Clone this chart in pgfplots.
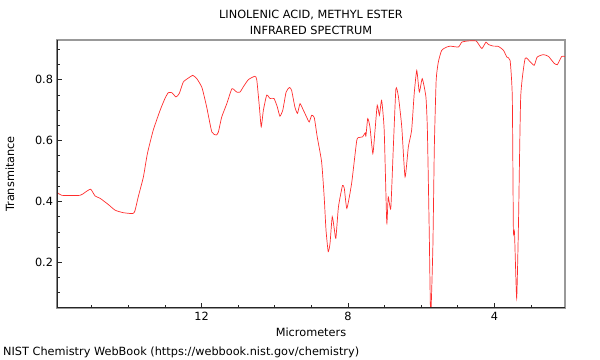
\documentclass[border=0pt]{standalone}
\usepackage{fontspec}
\setmainfont{DejaVu Sans}
\usepackage{pgfplots}
\usepackage{pgfplotstable}
\pgfplotsset{compat=1.18}
\definecolor{specred}{RGB}{255,45,45}
\pgfplotstableread{
x y
15.95 0.43
15.82 0.42
15.32 0.42
15.18 0.43
15.03 0.44
14.91 0.418
14.77 0.41
14.55 0.39
14.36 0.371
14.14 0.363
13.88 0.36
13.82 0.369
13.73 0.415
13.59 0.48
13.48 0.557
13.32 0.634
13.13 0.70
13.00 0.738
12.91 0.757
12.81 0.757
12.70 0.743
12.61 0.754
12.50 0.792
12.36 0.805
12.24 0.814
12.13 0.803
11.99 0.774
11.86 0.71
11.72 0.628
11.60 0.618
11.54 0.628
11.45 0.677
11.31 0.721
11.17 0.77
11.04 0.759
10.95 0.759
10.86 0.776
10.72 0.80
10.54 0.811
10.49 0.798
10.42 0.71
10.37 0.645
10.31 0.70
10.22 0.749
10.13 0.738
10.02 0.738
9.93 0.71
9.86 0.68
9.78 0.70
9.69 0.759
9.60 0.774
9.54 0.765
9.45 0.71
9.38 0.689
9.31 0.721
9.22 0.70
9.13 0.677
9.06 0.661
8.99 0.683
8.92 0.675
8.84 0.612
8.72 0.53
8.65 0.415
8.60 0.306
8.54 0.235
8.49 0.262
8.43 0.35
8.37 0.306
8.33 0.279
8.26 0.382
8.15 0.452
8.10 0.443
8.03 0.377
7.90 0.459
7.76 0.60
7.69 0.61
7.60 0.612
7.53 0.625
7.51 0.614
7.46 0.672
7.40 0.645
7.32 0.557
7.26 0.634
7.20 0.716
7.14 0.683
7.08 0.732
7.01 0.634
6.94 0.33
6.90 0.415
6.83 0.377
6.76 0.579
6.69 0.77
6.62 0.743
6.53 0.645
6.44 0.48
6.35 0.579
6.26 0.634
6.19 0.754
6.12 0.83
6.05 0.759
5.97 0.803
5.87 0.743
5.83 0.634
5.78 0.306
5.74 0.02
5.68 0.251
5.64 0.579
5.59 0.798
5.53 0.858
5.44 0.896
5.30 0.907
5.21 0.91
4.98 0.907
4.89 0.923
4.71 0.927
4.50 0.927
4.44 0.918
4.34 0.902
4.23 0.923
4.16 0.915
4.03 0.91
3.89 0.909
3.75 0.896
3.66 0.874
3.57 0.863
3.51 0.743
3.48 0.306
3.45 0.30
3.39 0.082
3.34 0.333
3.28 0.743
3.16 0.869
3.02 0.858
2.91 0.847
2.83 0.874
2.66 0.882
2.52 0.876
2.37 0.854
2.28 0.849
2.16 0.876
2.07 0.876
}\spectrum
\begin{document}
\fontsize{11.3bp}{13.4bp}\selectfont
\begin{tikzpicture}
\begin{axis}[
  scale only axis, width=508bp, height=268bp,
  x dir=reverse, xmin=2.07, xmax=15.95, ymin=0.05, ymax=0.93,
  xtick={4,8,12}, minor xtick={3,5,6,7,9,10,11,13,14,15},
  ytick={0.2,0.4,0.6,0.8},
  minor ytick={0.1,0.15,0.25,0.3,0.35,0.45,0.5,0.55,0.65,0.7,0.75,0.85,0.9},
  tick align=inside, xtick pos=bottom, ytick pos=left,
  major tick length=5bp, minor tick length=3bp,
  tick style={black!85, line width=0.6bp},
  axis line style={black!40, line width=1.6bp},
  /pgf/number format/assume math mode=true,
  ticklabel style={font=\fontsize{11.3bp}{13bp}\selectfont},
  yticklabel style={/pgf/number format/fixed, /pgf/number format/precision=1, /pgf/number format/fixed zerofill},
  xlabel={Micrometers}, ylabel={Transmitance},
  xlabel style={at={(axis description cs:0.5,-0.0896)}, anchor=center, inner sep=0pt},
  ylabel style={at={(axis description cs:-0.0925,0.5)}, anchor=center, rotate=0, inner sep=0pt},
  title={LINOLENIC ACID, METHYL ESTER\\INFRARED SPECTRUM},
  title style={at={(axis description cs:0.5,1)}, anchor=south, align=center, yshift=-0.5bp, inner sep=0pt, font=\fontsize{11.3bp}{16bp}\selectfont},
  clip=true,
]
\addplot[specred, line width=0.7bp, smooth, tension=0.3] table[x=x, y=y] {\spectrum};
\draw[black!85, line width=1.2bp] (rel axis cs:0,1) -- (rel axis cs:0,0) -- (rel axis cs:1,0);
\end{axis}
\node[anchor=west, inner sep=0pt] at ([xshift=-54bp,yshift=-44bp]current axis.south west) {NIST Chemistry WebBook (https://webbook.nist.gov/chemistry)};
\pgfresetboundingbox
\path ([xshift=-57bp,yshift=-52bp]current axis.south west) rectangle ++(600bp,360bp);
\end{tikzpicture}
\end{document}
